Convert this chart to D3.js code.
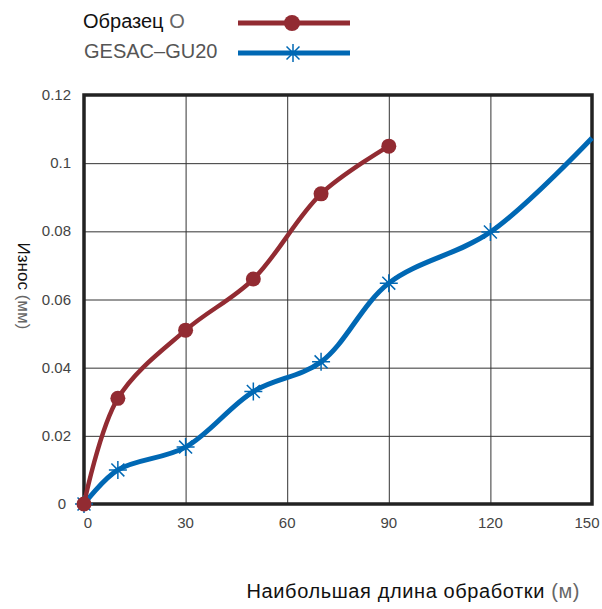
<!DOCTYPE html>
<html>
<head>
<meta charset="utf-8">
<script src="https://cdn.jsdelivr.net/npm/d3@7"></script>
<style>
  body { margin: 0; background: #fff; }
  text { font-family: "Liberation Sans", Arial, sans-serif; }
</style>
</head>
<body>
<div id="chart"></div>
<script>
'use strict'

// wear vs. machining length
const sampleX = [0, 10, 30, 50, 70, 90];
const sampleY = [0, 0.031, 0.051, 0.066, 0.091, 0.105];
const gesacX = [0, 10, 30, 50, 70, 90, 120, 150];
const gesacY = [0, 0.010, 0.0167, 0.033, 0.0417, 0.0648, 0.0798, 0.1074];
const xTicks = [0, 30, 60, 90, 120, 150];
const yTicks = [0, 0.02, 0.04, 0.06, 0.08, 0.1, 0.12];
const seriesNames = ['Образец', 'GESAC\u2013GU20'];

const red = '#922b32';
const blue = '#0068b4';

const svg = d3.select('#chart')
    .append('svg')
    .attr('width', 602)
    .attr('height', 609);

const x = d3.scaleLinear().domain([0, 150]).range([84, 592]);
const y = d3.scaleLinear().domain([0, 0.12]).range([504, 95]);

// grid
svg.append('g')
    .attr('transform', 'translate(0,504)')
    .call(d3.axisBottom(x).tickValues(xTicks).tickSize(-409).tickFormat(''))
    .call(g => g.select('.domain').remove())
    .selectAll('line').attr('stroke', '#333').attr('stroke-width', 1);

svg.append('g')
    .attr('transform', 'translate(84,0)')
    .call(d3.axisLeft(y).tickValues(yTicks).tickSize(-508).tickFormat(''))
    .call(g => g.select('.domain').remove())
    .selectAll('line').attr('stroke', '#333').attr('stroke-width', 1);

// tick labels
svg.append('g').selectAll('text')
    .data(xTicks)
    .enter().append('text')
    .attr('x', d => x(d) + (d === 0 ? 4 : d === 150 ? -5 : 0))
    .attr('y', 528)
    .attr('text-anchor', 'middle')
    .attr('font-size', 15)
    .attr('fill', '#444')
    .text(d => d);

svg.append('g').selectAll('text')
    .data(yTicks)
    .enter().append('text')
    .attr('x', d => d === 0 ? 66 : 71)
    .attr('y', d => y(d) + 5)
    .attr('text-anchor', 'end')
    .attr('font-size', 15)
    .attr('fill', '#444')
    .text(d => d);

// frame
svg.append('rect')
    .attr('x', 84).attr('y', 95)
    .attr('width', 508).attr('height', 409)
    .attr('fill', 'none')
    .attr('stroke', '#222')
    .attr('stroke-width', 3.5);

const line = d3.line()
    .x(d => x(d[0]))
    .y(d => y(d[1]))
    .curve(d3.curveCatmullRom.alpha(0.5));

const samplePts = sampleX.map((v, i) => [v, sampleY[i]]);
const gesacPts = gesacX.map((v, i) => [v, gesacY[i]]);

const star = (g, cx, cy, r) => {
    const a = r * 0.72;
    g.append('path')
        .attr('d', `M${cx - r},${cy}H${cx + r}M${cx},${cy - r}V${cy + r}` +
                   `M${cx - a},${cy - a}L${cx + a},${cy + a}M${cx - a},${cy + a}L${cx + a},${cy - a}`)
        .attr('stroke', blue)
        .attr('stroke-width', 1.5)
        .attr('fill', 'none');
};

// GESAC series
svg.append('path')
    .attr('d', line(gesacPts))
    .attr('fill', 'none')
    .attr('stroke', blue)
    .attr('stroke-width', 5);

const gStars = svg.append('g');
gesacPts.filter(d => d[0] < 150).forEach(d => star(gStars, x(d[0]), y(d[1]), 9));

// sample series
svg.append('path')
    .attr('d', line(samplePts))
    .attr('fill', 'none')
    .attr('stroke', red)
    .attr('stroke-width', 4.5);

svg.append('g').selectAll('circle')
    .data(samplePts)
    .enter().append('circle')
    .attr('cx', d => x(d[0]))
    .attr('cy', d => y(d[1]))
    .attr('r', 7.5)
    .attr('fill', red);

// axis titles
const xt = svg.append('text')
    .attr('x', 580).attr('y', 598)
    .attr('text-anchor', 'end')
    .attr('font-size', 20)
    .attr('letter-spacing', 0.6)
    .attr('fill', '#111');
xt.append('tspan').text('Наибольшая длина обработки ');
xt.append('tspan').attr('fill', '#666').text('(м)');

const yt = svg.append('text')
    .attr('transform', 'translate(18,286) rotate(90)')
    .attr('text-anchor', 'middle')
    .attr('font-size', 17)
    .attr('fill', '#111');
yt.append('tspan').text('Износ ');
yt.append('tspan').attr('fill', '#666').text('(мм)');

// legend
const lt1 = svg.append('text')
    .attr('x', 83).attr('y', 28)
    .attr('font-size', 20)
    .attr('fill', '#111');
lt1.append('tspan').text(seriesNames[0] + ' ');
lt1.append('tspan').attr('fill', '#666').text('О');

svg.append('text')
    .attr('x', 84).attr('y', 58)
    .attr('font-size', 20)
    .attr('fill', '#555')
    .text(seriesNames[1]);

svg.append('line')
    .attr('x1', 238).attr('x2', 350).attr('y1', 23).attr('y2', 23)
    .attr('stroke', red).attr('stroke-width', 5);
svg.append('circle')
    .attr('cx', 292).attr('cy', 23).attr('r', 8).attr('fill', red);

svg.append('line')
    .attr('x1', 238).attr('x2', 350).attr('y1', 53).attr('y2', 53)
    .attr('stroke', blue).attr('stroke-width', 5);
star(svg, 293, 53, 9);
</script>
</body>
</html>
